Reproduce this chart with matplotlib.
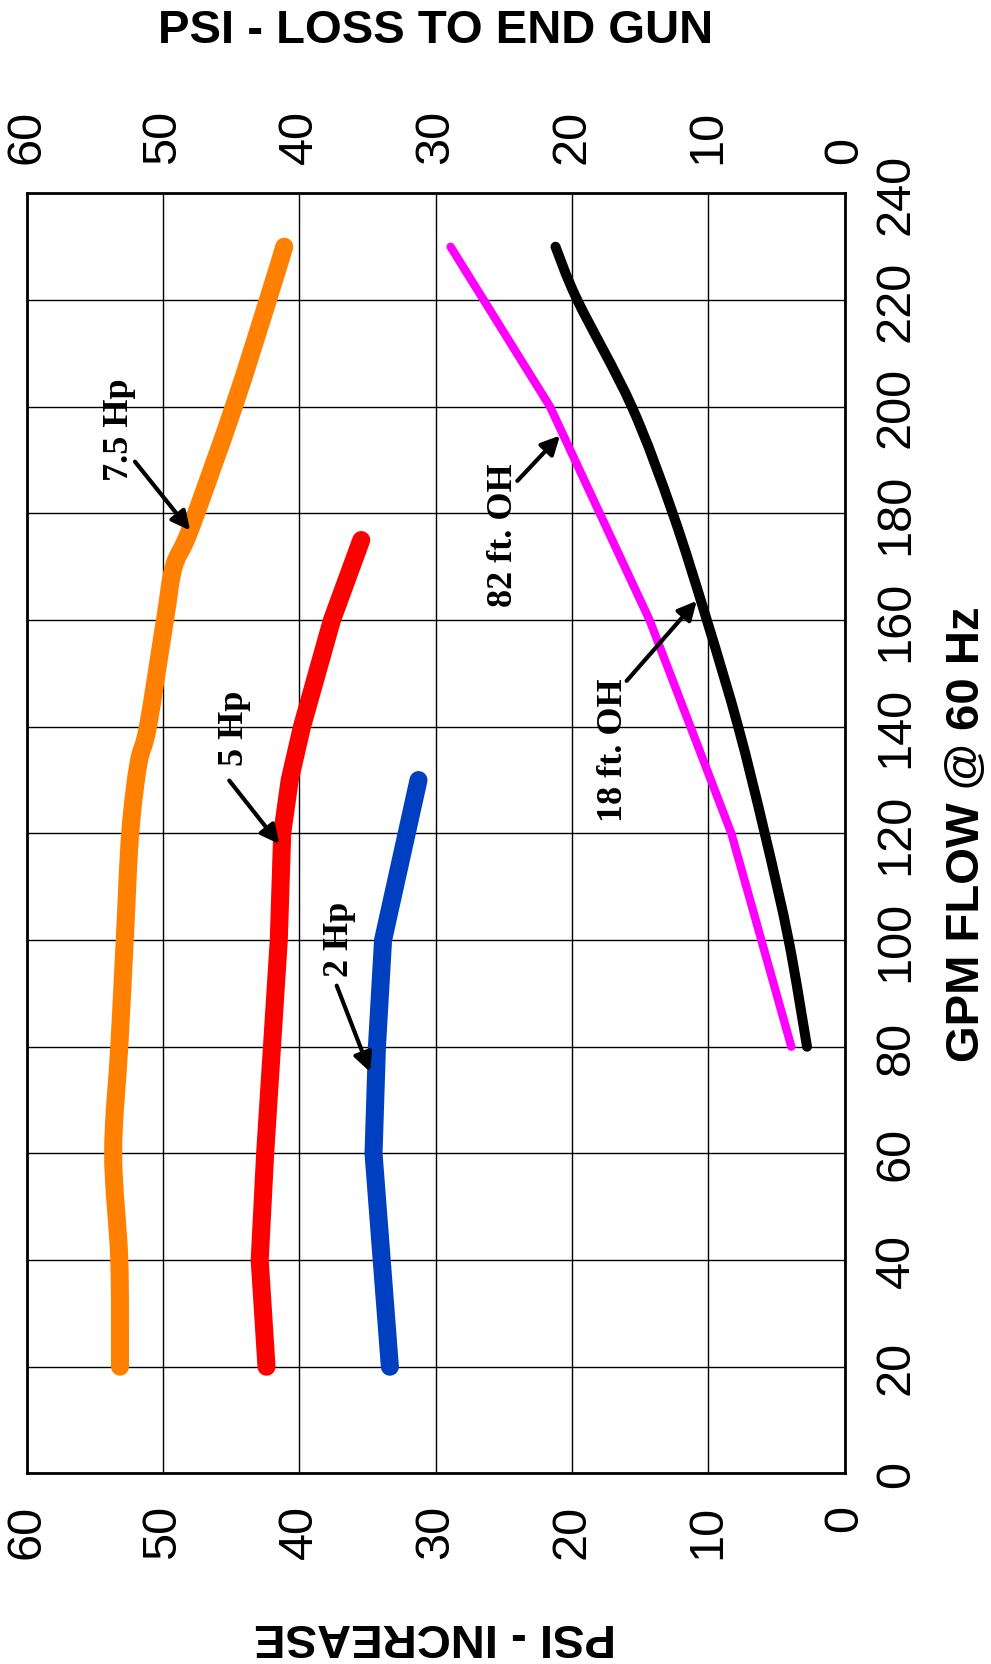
import matplotlib
matplotlib.use("Agg")
import matplotlib.pyplot as plt
import numpy as np
from matplotlib.path import Path
from matplotlib.patches import PathPatch

plt.rcParams['font.family'] = ['Liberation Sans', 'DejaVu Sans']

# Pump performance curves: pressure (PSI) versus flow (GPM @ 60 Hz)
gpm_75hp = [20, 40, 60, 80, 100, 120, 133, 140, 160, 170, 177, 200, 220, 230]
psi_75hp = [53.15, 53.2, 53.65, 53.2, 52.8, 52.4, 51.8, 51.1, 49.85, 49.2, 48.0, 44.8, 42.3, 41.1]

gpm_5hp = [20, 40, 60, 80, 100, 120, 130, 140, 160, 175]
psi_5hp = [42.4, 42.9, 42.5, 42.0, 41.5, 41.25, 40.7, 39.8, 37.6, 35.45]

gpm_2hp = [20, 40, 60, 80, 100, 130]
psi_2hp = [33.35, 33.95, 34.55, 34.3, 33.85, 31.25]

# Friction loss to the end gun for two overhang lengths
gpm_82oh = [80, 120, 160, 200, 230]
psi_82oh = [3.9, 8.3, 14.3, 21.6, 28.9]

gpm_18oh = [80, 100, 120, 140, 160, 180, 200, 220, 230]
psi_18oh = [2.75, 4.1, 5.85, 7.8, 10.1, 12.6, 15.6, 19.6, 21.2]

psi_ticks = [0, 10, 20, 30, 40, 50, 60]
gpm_ticks = list(range(0, 241, 20))


def smooth_path(xs, ys):
    """Catmull-Rom curve through the points, expressed as cubic Bezier segments."""
    p = np.column_stack([xs, ys]).astype(float)
    verts = [p[0]]
    codes = [Path.MOVETO]
    n = len(p)
    for i in range(n - 1):
        p0 = p[i - 1] if i > 0 else p[i]
        p1, p2 = p[i], p[i + 1]
        p3 = p[i + 2] if i + 2 < n else p[i + 1]
        c1 = p1 + (p2 - p0) / 6.0
        c2 = p2 - (p3 - p1) / 6.0
        verts += [c1, c2, p2]
        codes += [Path.CURVE4] * 3
    return Path(verts, codes)


W, H = 991, 1665
fig = plt.figure(figsize=(W / 100, H / 100), dpi=100)
ax = fig.add_axes([26.6 / W, 1 - 1474.4 / H, 817.9 / W, 1280 / H])

ax.set_xlim(60, 0)
ax.set_ylim(0, 240)
ax.set_xticks(psi_ticks)
ax.set_yticks(gpm_ticks)
ax.grid(True, color='black', linewidth=1.0)
ax.set_axisbelow(True)
for s in ax.spines.values():
    s.set_linewidth(2.0)
    s.set_color('black')

ax.tick_params(axis='x', which='both', length=0, pad=22, labelsize=35,
               top=True, bottom=True, labeltop=True, labelbottom=True,
               labelrotation=90)
ax.tick_params(axis='y', which='both', length=0, pad=21, labelsize=35,
               left=False, right=True, labelleft=False, labelright=True,
               labelrotation=90)
for lab in ax.get_yticklabels():
    lab.set_va('center')

line_kw = dict(solid_capstyle='round', solid_joinstyle='round', zorder=3)
ax.plot(psi_5hp, gpm_5hp, color='#FF0000', lw=13, **line_kw)
ax.plot(psi_2hp, gpm_2hp, color='#0040C0', lw=13, **line_kw)
ax.plot(psi_82oh, gpm_82oh, color='#FF00FF', lw=6, **line_kw)

for xs, ys, col, lw in [(psi_75hp, gpm_75hp, '#FF8000', 13),
                        (psi_18oh, gpm_18oh, '#000000', 7.2)]:
    patch = PathPatch(smooth_path(xs, ys), facecolor='none', edgecolor=col,
                      lw=lw, capstyle='round', joinstyle='round', zorder=3)
    ax.add_patch(patch)

# Curve labels with pointer arrows
ann_font = dict(family=['Liberation Serif', 'DejaVu Serif'], weight='bold', size=26)
arrow = dict(arrowstyle='-|>', color='black', lw=3, mutation_scale=28,
             shrinkA=0, shrinkB=0)
labels = [
    ("7.5 Hp", (53.22, 195.8), (52.05, 189.7), (48.0, 176.8)),
    ("5 Hp", (44.77, 139.9), (45.13, 129.9), (41.46, 118.0)),
    ("2 Hp", (37.07, 100.4), (37.25, 91.45), (34.81, 75.3)),
    ("82 ft. OH", (25.03, 176.1), (24.0, 186.1), (20.87, 194.6)),
    ("18 ft. OH", (16.96, 135.7), (15.98, 148.6), (10.84, 163.6)),
]
for text, tpos, a0, a1 in labels:
    ax.text(tpos[0], tpos[1], text, rotation=90, ha='center', va='center',
            zorder=5, **ann_font)
    ax.annotate('', xy=a1, xytext=a0, arrowprops=arrow, zorder=5)

title_kw = dict(weight='bold', size=34, ha='center', va='center')
fig.text(435.5 / W, 1 - 31 / H, "PSI - LOSS TO END GUN", **title_kw)
fig.text(434.5 / W, 1 - 1636 / H, "PSI - INCREASE", rotation=180, **title_kw)
fig.text(967 / W, 1 - 834 / H, "GPM FLOW @ 60 Hz", rotation=90, **title_kw)

fig.savefig("out.png", dpi=100, facecolor='white')
